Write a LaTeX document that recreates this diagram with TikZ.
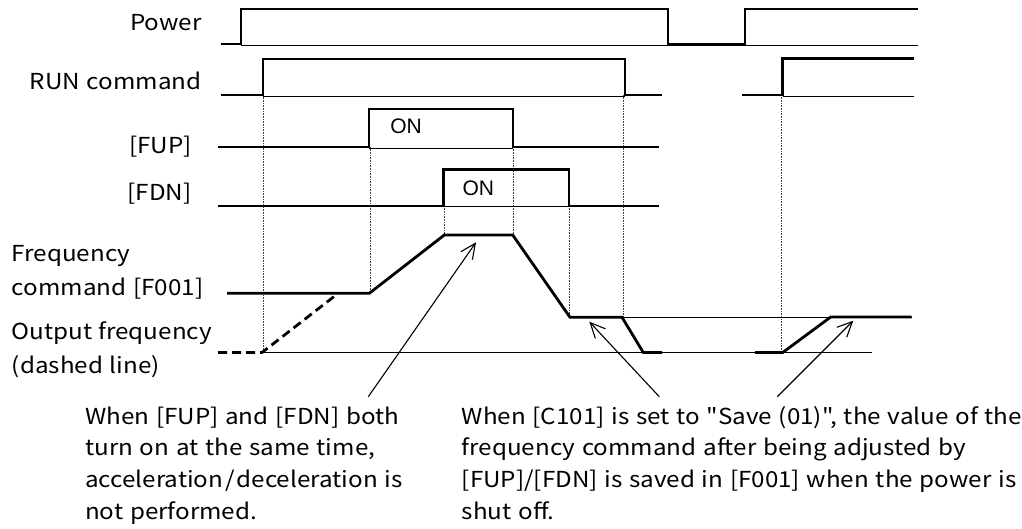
\documentclass[tikz,border=0pt]{standalone}
\usepackage{fontspec}
\setmainfont{Noto Sans CJK JP}[FakeStretch=1.1, WordSpace=1.25, Ligatures=TeXOff]
\newfontfamily\onfont{Liberation Sans}
\usetikzlibrary{arrows.meta}
\begin{document}
\begin{tikzpicture}[x=1pt,y=-1pt,
  sig/.style={line width=2.8pt, line join=miter, line cap=butt},
  base/.style={line width=0.9pt},
  guide/.style={line width=0.8pt, black!75, dash pattern=on 0.8pt off 0.8pt},
  outdash/.style={line width=2.8pt, dash pattern=on 9pt off 5pt},
  lbl/.style={font=\fontsize{22}{34}\selectfont, inner sep=0pt},
  multi/.style={font=\fontsize{22}{34}\selectfont, inner sep=0pt, anchor=base west},
  note/.style={font=\fontsize{22}{31.8}\selectfont, inner sep=0pt, anchor=base west},
  onlbl/.style={font=\onfont\fontsize{21}{24}\selectfont, inner sep=0pt},
  callout/.style={line width=1.1pt, -{Straight Barb[length=15pt,width=14pt]}}]
\useasboundingbox (0,0) rectangle (1022,528);

% labels
\node[lbl, anchor=base east] (lpow) at (201.7,30.5) {Power};
\node[lbl, anchor=base east] (lrun) at (201.7,89) {RUN command};
\node[lbl, anchor=base east] (lfup) at (191.7,153) {[FUP]};
\node[lbl, anchor=base east] (lfdn) at (191.7,200.5) {[FDN]};
\node[multi] (lcmd) at (11.7,261) {\parbox[t]{200pt}{Frequency\\command [F001]}};
\node[multi] (lout) at (11.7,339.5) {\parbox[t]{200pt}{Output frequency\\(dashed line)}};

% guides
\draw[guide] (263,95) -- (263,352);
\draw[guide] (370,147) -- (370,293);
\draw[guide] (444,206) -- (444,235);
\draw[guide] (513,147) -- (513,235);
\draw[guide] (569,206) -- (569,317);
\draw[guide] (623,95) -- (623,317);
\draw[guide] (781,95) -- (781,353);

% Power
\draw[base] (241,45.5) -- (918,45.5);
\draw[sig] (221,44) -- (241,44) -- (241,9) -- (668,9) -- (668,44) -- (745,44) -- (745,9) -- (918,9);
% RUN
\draw[base] (263,96.3) -- (625,96.3);
\draw[sig] (221,95) -- (263,95) -- (263,59) -- (625,59) -- (625,95) -- (662,95);
\draw[base] (782.7,96.3) -- (914,96.3);
\draw[sig] (742,95) -- (782.7,95) -- (782.7,58.5) -- (914,58.5);
% FUP
\draw[base] (369,148) -- (513,148);
\draw[sig] (218,147) -- (369,147) -- (369,109) -- (513,109) -- (513,147) -- (659,147);
\node[onlbl] (on1) at (406,126) {ON};
% FDN
\draw[base] (443.5,206.5) -- (569,206.5);
\draw[sig] (218,206) -- (443.5,206) -- (443.5,169.5) -- (569,169.5) -- (569,206) -- (659,206);
\node[onlbl] (on2) at (478.3,188.3) {ON};

% frequency command / output frequency
\draw[base] (260,352.5) -- (872,352.5);
\draw[base] (620,317) -- (911.7,317);
\draw[sig] (227,293.3) -- (369.3,293.3) -- (444.3,235) -- (512.7,235) -- (570,317.3) -- (622,317.3)
  -- (643.3,352.5) -- (662,352.5);
\draw[outdash] (218,352.5) -- (262,352.5) -- (336,295);
\draw[sig] (755,352.5) -- (782.7,352.5) -- (830.7,317) -- (911.7,317);

% notes
\node[note] (n1) at (85,424) {\parbox[t]{360pt}{When [FUP] and [FDN] both\\turn on at the same time,\\acceleration\kern2pt/\kern2pt deceleration is\\not performed.}};
\node[note] (n2) at (461.7,424) {\parbox[t]{560pt}{When [C101] is set to "Save (01)", the value of the\\frequency command after being adjusted by\\{[FUP]/[FDN]} is saved in [F001] when the power is\\shut off.}};

\coordinate (t1) at (368.3,396.7);
\coordinate (h1) at (476,242.3);
\coordinate (t2) at (659.3,396.7);
\coordinate (h2) at (589.3,321.7);
\coordinate (t3) at (777.3,396.7);
\coordinate (h3) at (853.3,320.7);
\draw[callout] (t1) -- (h1);
\draw[callout] (t2) -- (h2);
\draw[callout] (t3) -- (h3);
\end{tikzpicture}
\end{document}
